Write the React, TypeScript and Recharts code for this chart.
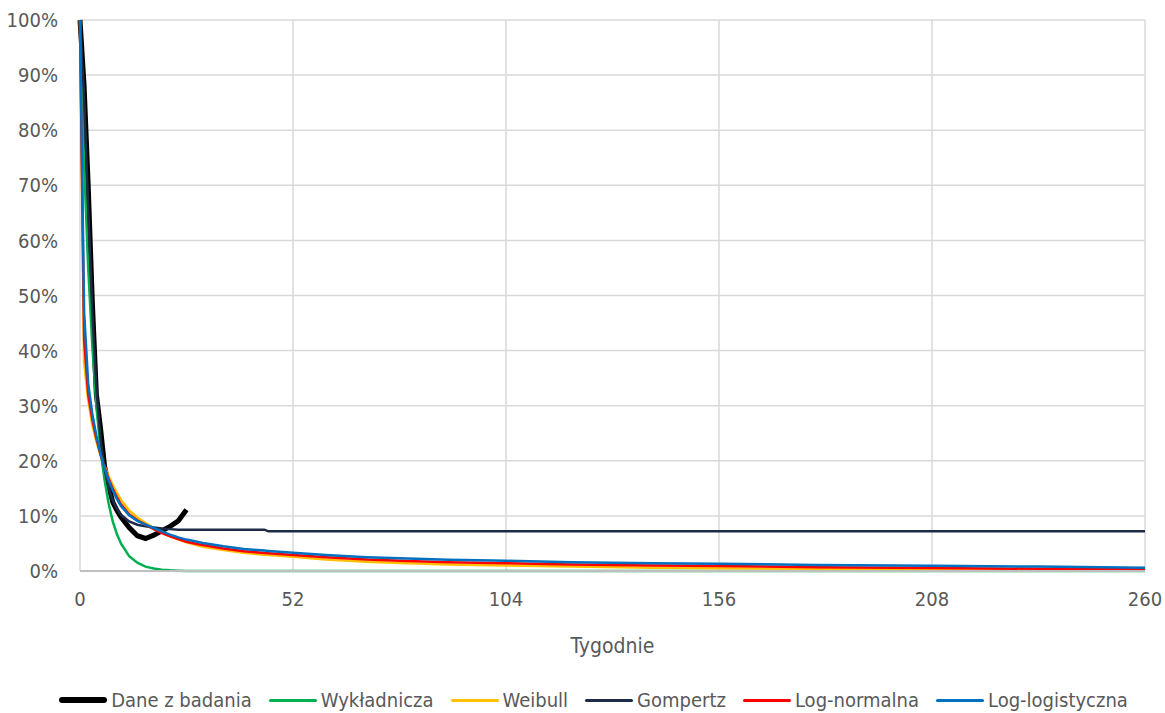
import { LineChart, Line, XAxis, YAxis, CartesianGrid } from 'recharts'

const weeks = [0, 1, 2, 3, 4, 5, 6, 7, 8, 9, 10, 12, 14, 16, 18, 20, 22, 24, 26, 28, 30, 35, 40, 45, 46, 52, 60, 70, 80, 90, 104, 120, 140, 156, 180, 208, 234, 260]

const dane = [100, 88, 70, 49, 32, 26, 19, 15.5, 12.5, 11, 9.8, 7.9, 6.4, 5.9, 6.5, 7.3, 8.1, 9.1, 11.1]
const wykladnicza = [100, 74, 55, 41, 30, 22, 16.5, 12.2, 9, 6.7, 5, 2.7, 1.5, 0.8, 0.45, 0.25, 0.12, 0.05, 0, 0, 0, 0, 0, 0, 0, 0, 0, 0, 0, 0, 0, 0, 0, 0, 0, 0, 0, 0]
const weibull = [100, 38, 31, 26.5, 23.5, 21, 19, 17.2, 15.6, 14.2, 12.9, 11, 9.7, 8.7, 7.8, 7, 6.3, 5.7, 5.2, 4.8, 4.4, 3.8, 3.3, 2.95, 2.9, 2.6, 2.1, 1.7, 1.4, 1.2, 1.0, 0.8, 0.6, 0.5, 0.4, 0.3, 0.2, 0.1]
const gompertz = [100, 86, 66, 47, 33, 24, 18.5, 15, 12.8, 11.3, 10.2, 9, 8.4, 8.1, 7.9, 7.7, 7.6, 7.5, 7.5, 7.5, 7.5, 7.5, 7.5, 7.5, 7.2, 7.2, 7.2, 7.2, 7.2, 7.2, 7.2, 7.2, 7.2, 7.2, 7.2, 7.2, 7.2, 7.2]
const logNormalna = [100, 42, 32, 27.5, 24, 21.2, 18.8, 16.7, 14.9, 13.4, 12.1, 10.3, 9.2, 8.4, 7.6, 6.9, 6.3, 5.8, 5.3, 5.0, 4.7, 4.1, 3.6, 3.25, 3.2, 2.9, 2.5, 2.1, 1.8, 1.6, 1.4, 1.2, 1.0, 0.9, 0.7, 0.55, 0.4, 0.3]
const logLogistyczna = [100, 47, 34, 28.5, 24.5, 21.3, 18.6, 16.4, 14.6, 13.1, 11.8, 10.1, 9.1, 8.4, 7.8, 7.2, 6.6, 6.1, 5.7, 5.4, 5.1, 4.5, 4.0, 3.7, 3.65, 3.3, 2.9, 2.5, 2.25, 2.05, 1.85, 1.6, 1.4, 1.3, 1.1, 0.95, 0.8, 0.6]

const xTicks = [0, 52, 104, 156, 208, 260]
const yTicks = [0, 10, 20, 30, 40, 50, 60, 70, 80, 90, 100]

const series = [
  { key: 'dane', name: 'Dane z badania', color: '#000000', width: 5 },
  { key: 'wykladnicza', name: 'Wykładnicza', color: '#00B050', width: 2.5 },
  { key: 'weibull', name: 'Weibull', color: '#FFC000', width: 2.5 },
  { key: 'gompertz', name: 'Gompertz', color: '#1E2B47', width: 2.5 },
  { key: 'logNormalna', name: 'Log-normalna', color: '#FF0000', width: 2.5 },
  { key: 'logLogistyczna', name: 'Log-logistyczna', color: '#0070C0', width: 2.5 },
]

const data = weeks.map((w, i) => ({
  week: w,
  dane: dane[i] ?? null,
  wykladnicza: wykladnicza[i],
  weibull: weibull[i],
  gompertz: gompertz[i],
  logNormalna: logNormalna[i],
  logLogistyczna: logLogistyczna[i],
}))

const font = "'Liberation Sans Narrow', 'DejaVu Sans Condensed', Lato, sans-serif"
const textColor = '#595959'

export default function App() {
  return (
    <div style={{ position: 'relative', width: 1165, height: 713, fontFamily: font, overflow: 'hidden' }}>
      <style>{'body { margin: 0; }'}</style>
      <LineChart width={1165} height={668} data={data} margin={{ top: 20, right: 20, left: 0, bottom: 0 }}>
        <CartesianGrid stroke="#D9D9D9" strokeWidth={1.5} />
        <XAxis
          dataKey="week"
          type="number"
          domain={[0, 260]}
          ticks={xTicks}
          height={97}
          tickLine={false}
          tickMargin={15}
          axisLine={{ stroke: '#BFBFBF', strokeWidth: 2 }}
          tick={{ fill: textColor, fontSize: 20, fontFamily: font }}
          label={{ value: 'Tygodnie', position: 'insideBottom', offset: 15, fill: textColor, fontSize: 21, fontFamily: font }}
        />
        <YAxis
          type="number"
          domain={[0, 100]}
          ticks={yTicks}
          width={80}
          tickLine={false}
          axisLine={false}
          tickMargin={16}
          tickFormatter={(v) => `${v}%`}
          tick={{ fill: textColor, fontSize: 20, fontFamily: font }}
        />
        {series.map((s) => (
          <Line
            key={s.key}
            type="linear"
            dataKey={s.key}
            name={s.name}
            stroke={s.color}
            strokeWidth={s.width}
            dot={false}
            isAnimationActive={false}
          />
        ))}
      </LineChart>

      {/* Legend */}
      <div
        style={{
          position: 'absolute',
          top: 688,
          left: 0,
          width: 1165,
          display: 'flex',
          justifyContent: 'center',
          gap: 17,
          paddingLeft: 22,
          boxSizing: 'border-box',
          fontSize: 20,
          color: textColor,
        }}
      >
        {series.map((s) => (
          <div key={s.key} style={{ display: 'flex', alignItems: 'center' }}>
            <div style={{ width: 48, height: s.width + 0.5, background: s.color, borderRadius: 3, marginRight: 4 }} />
            <span>{s.name}</span>
          </div>
        ))}
      </div>
    </div>
  )
}
